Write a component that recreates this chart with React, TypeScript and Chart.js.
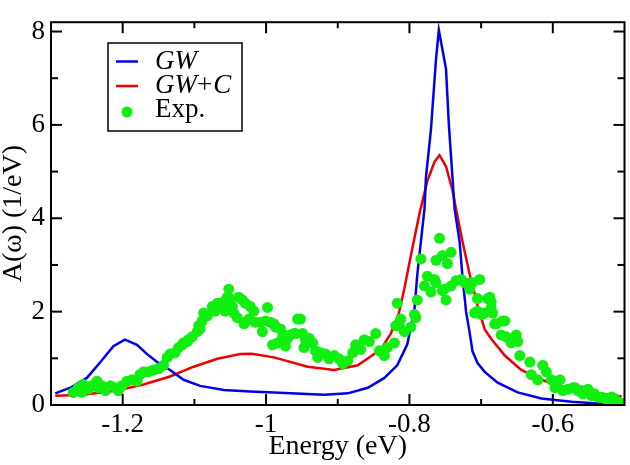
import React, { useEffect, useRef } from 'react';
import { Chart, registerables } from 'chart.js';

Chart.register(...registerables);

// ---- Data ----
const seriesLabels = ['GW', 'GW+C', 'Exp.'];
const seriesColors = ['#0000ee', '#ee0000', '#11ee11'];

const gwX = [-1.294, -1.273, -1.25, -1.231, -1.213, -1.197, -1.18, -1.166, -1.152, -1.134, -1.115, -1.092, -1.059, -1.022, -0.989, -0.95, -0.919, -0.886, -0.858, -0.835, -0.817, -0.803, -0.793, -0.789, -0.784, -0.779, -0.777, -0.770, -0.763, -0.759, -0.755, -0.749, -0.745, -0.737, -0.730, -0.726, -0.721, -0.716, -0.712, -0.705, -0.695, -0.677, -0.649, -0.616, -0.574, -0.537, -0.502];
const gwY = [0.25, 0.37, 0.58, 0.92, 1.26, 1.40, 1.29, 1.09, 0.92, 0.75, 0.54, 0.41, 0.32, 0.29, 0.27, 0.24, 0.22, 0.25, 0.37, 0.58, 0.85, 1.3, 2.05, 2.8, 3.5, 4.2, 4.87, 5.9, 7.4, 8.03, 7.7, 7.2, 6.0, 4.2, 3.5, 2.75, 2.0, 1.55, 1.15, 0.9, 0.71, 0.48, 0.27, 0.14, 0.07, 0.03, 0.02];

const gwcX = [-1.294, -1.255, -1.208, -1.171, -1.134, -1.101, -1.068, -1.036, -1.02, -0.989, -0.942, -0.905, -0.872, -0.84, -0.826, -0.815, -0.807, -0.798, -0.786, -0.775, -0.765, -0.758, -0.749, -0.740, -0.735, -0.726, -0.716, -0.705, -0.695, -0.686, -0.667, -0.644, -0.616, -0.583, -0.546, -0.504];
const gwcY = [0.20, 0.22, 0.31, 0.44, 0.61, 0.82, 0.99, 1.09, 1.10, 1.02, 0.82, 0.75, 0.85, 1.19, 1.53, 1.95, 2.5, 3.2, 4.1, 4.8, 5.21, 5.35, 5.11, 4.60, 4.2, 3.5, 2.8, 2.14, 1.62, 1.42, 1.06, 0.75, 0.54, 0.37, 0.27, 0.18];

const expX = [-1.269, -1.262, -1.257, -1.255, -1.248, -1.243, -1.236, -1.234, -1.229, -1.224, -1.217, -1.210, -1.206, -1.201, -1.194, -1.187, -1.180, -1.176, -1.171, -1.164, -1.157, -1.150, -1.143, -1.138, -1.134, -1.127, -1.122, -1.117, -1.115, -1.110, -1.108, -1.103, -1.096, -1.094, -1.092, -1.089, -1.087, -1.082, -1.075, -1.071, -1.068, -1.064, -1.059, -1.057, -1.054, -1.052, -1.050, -1.047, -1.045, -1.040, -1.038, -1.033, -1.031, -1.029, -1.026, -1.024, -1.022, -1.017, -1.015, -1.008, -1.005, -1.001, -0.998, -0.994, -0.991, -0.989, -0.987, -0.984, -0.980, -0.977, -0.975, -0.973, -0.970, -0.966, -0.961, -0.959, -0.956, -0.952, -0.949, -0.947, -0.945, -0.940, -0.935, -0.931, -0.928, -0.924, -0.917, -0.912, -0.905, -0.898, -0.893, -0.886, -0.879, -0.875, -0.868, -0.863, -0.856, -0.847, -0.842, -0.835, -0.831, -0.821, -0.819, -0.817, -0.814, -0.812, -0.807, -0.798, -0.793, -0.791, -0.789, -0.784, -0.779, -0.775, -0.770, -0.765, -0.763, -0.763, -0.758, -0.754, -0.754, -0.751, -0.749, -0.747, -0.742, -0.742, -0.735, -0.728, -0.723, -0.716, -0.714, -0.712, -0.709, -0.705, -0.705, -0.702, -0.700, -0.695, -0.691, -0.688, -0.686, -0.686, -0.684, -0.681, -0.679, -0.672, -0.670, -0.667, -0.665, -0.658, -0.651, -0.649, -0.646, -0.632, -0.630, -0.621, -0.614, -0.609, -0.602, -0.597, -0.595, -0.590, -0.586, -0.579, -0.572, -0.569, -0.565, -0.560, -0.558, -0.551, -0.546, -0.542, -0.537, -0.532, -0.528, -0.523, -0.518, -0.514, -0.509, -0.504, -0.502];
const expY = [0.27, 0.37, 0.27, 0.44, 0.34, 0.41, 0.51, 0.37, 0.41, 0.31, 0.41, 0.37, 0.31, 0.41, 0.51, 0.54, 0.51, 0.65, 0.71, 0.71, 0.75, 0.78, 0.85, 1.02, 1.09, 1.12, 1.23, 1.29, 1.33, 1.36, 1.40, 1.46, 1.57, 1.70, 1.63, 1.80, 1.97, 1.91, 2.11, 2.01, 2.18, 2.14, 2.21, 2.01, 2.31, 2.48, 2.28, 2.11, 1.97, 1.87, 2.31, 2.25, 1.74, 2.18, 1.80, 1.84, 2.11, 2.01, 1.77, 1.77, 1.57, 1.80, 2.09, 1.77, 1.29, 1.74, 1.67, 1.33, 1.63, 1.46, 1.50, 1.26, 1.43, 1.50, 1.53, 1.53, 1.84, 1.84, 1.53, 1.23, 1.40, 1.43, 1.33, 1.16, 1.02, 1.12, 1.09, 0.99, 1.06, 0.99, 0.88, 0.95, 1.12, 1.29, 1.19, 1.40, 1.36, 1.53, 1.16, 1.06, 1.23, 1.33, 1.70, 2.18, 1.70, 1.84, 1.57, 1.67, 1.94, 1.87, 2.25, 3.13, 2.55, 2.76, 2.42, 2.69, 3.10, 2.62, 3.57, 3.20, 2.45, 2.48, 2.25, 3.03, 3.27, 2.55, 2.66, 2.69, 2.62, 2.48, 2.62, 2.62, 1.97, 2.28, 2.01, 2.69, 1.94, 1.97, 2.28, 2.31, 2.21, 2.08, 1.97, 1.74, 1.74, 1.50, 1.80, 1.80, 1.46, 1.33, 1.50, 1.36, 1.06, 0.92, 0.65, 0.54, 0.85, 0.71, 0.54, 0.37, 0.44, 0.54, 0.31, 0.34, 0.37, 0.37, 0.31, 0.31, 0.24, 0.34, 0.20, 0.24, 0.17, 0.17, 0.14, 0.10, 0.17, 0.14, 0.03, 0.03, 0.02];

const xRange = [-1.3, -0.5];
const yRange = [0, 8.2];
const xMajorTicks = [-1.2, -1, -0.8, -0.6];
const xMinorTicks = [-1.1, -0.9, -0.7];
const yMajorTicks = [0, 2, 4, 6, 8];
const yMinorTicks = [1, 3, 5, 7];

const FONT = '"Liberation Serif", "Times New Roman", serif';

const pairs = (xs: number[], ys: number[]) => xs.map((x, i) => ({ x, y: ys[i] }));

const framePlugin = {
  id: 'frameTicks',
  afterDraw(chart: any) {
    const ctx = chart.ctx;
    const { left, right, top, bottom } = chart.chartArea;
    const xs = chart.scales.x;
    const ys = chart.scales.y;
    ctx.save();
    ctx.strokeStyle = '#000';
    ctx.lineWidth = 2;
    ctx.strokeRect(left, top, right - left, bottom - top);
    const seg = (x1: number, y1: number, x2: number, y2: number) => {
      ctx.beginPath();
      ctx.moveTo(x1, y1);
      ctx.lineTo(x2, y2);
      ctx.stroke();
    };
    xMajorTicks.forEach((v) => {
      const p = xs.getPixelForValue(v);
      seg(p, bottom, p, bottom - 11);
      seg(p, top, p, top + 11);
    });
    xMinorTicks.forEach((v) => {
      const p = xs.getPixelForValue(v);
      seg(p, bottom, p, bottom - 6);
      seg(p, top, p, top + 6);
    });
    yMajorTicks.forEach((v) => {
      const p = ys.getPixelForValue(v);
      seg(left, p, left + 11, p);
      seg(right, p, right - 11, p);
    });
    yMinorTicks.forEach((v) => {
      const p = ys.getPixelForValue(v);
      seg(left, p, left + 7, p);
      seg(right, p, right - 7, p);
    });

    // Legend
    const bx = 108, by = 43, bw = 134, bh = 88;
    ctx.fillStyle = '#fff';
    ctx.fillRect(bx, by, bw, bh);
    ctx.lineWidth = 1.5;
    ctx.strokeRect(bx, by, bw, bh);
    const rows = [61.5, 86, 112];
    ctx.lineWidth = 2.5;
    ctx.strokeStyle = seriesColors[0];
    seg(116, rows[0], 138, rows[0]);
    ctx.strokeStyle = seriesColors[1];
    seg(116, rows[1], 138, rows[1]);
    ctx.fillStyle = seriesColors[2];
    ctx.beginPath();
    ctx.arc(127, rows[2], 5.5, 0, Math.PI * 2);
    ctx.fill();

    ctx.fillStyle = '#000';
    ctx.textBaseline = 'middle';
    ctx.textAlign = 'left';
    const italic = `italic 27px ${FONT}`;
    const upright = `27px ${FONT}`;
    const drawParts = (parts: [string, boolean][], x: number, y: number) => {
      let cx = x;
      parts.forEach(([t, it]) => {
        ctx.font = it ? italic : upright;
        ctx.fillText(t, cx, y);
        cx += ctx.measureText(t).width + (t === '+' ? 1 : 0);
      });
    };
    drawParts([[seriesLabels[0], true]], 155, rows[0]);
    const l2 = seriesLabels[1].split('+');
    drawParts([[l2[0], true], ['+', false], [l2[1], true]], 155, rows[1]);
    drawParts([[seriesLabels[2], false]], 155, rows[2] - 2);
    ctx.restore();
  },
};

export default function App() {
  const ref = useRef<HTMLCanvasElement | null>(null);
  useEffect(() => {
    if (!ref.current) return;
    const chart = new Chart(ref.current, {
      type: 'scatter',
      data: {
        datasets: [
          {
            label: seriesLabels[0],
            data: pairs(gwX, gwY),
            showLine: true,
            borderColor: seriesColors[0],
            borderWidth: 2.5,
            pointRadius: 0,
            tension: 0,
            order: 1,
          },
          {
            label: seriesLabels[1],
            data: pairs(gwcX, gwcY),
            showLine: true,
            borderColor: seriesColors[1],
            borderWidth: 2.5,
            pointRadius: 0,
            tension: 0,
            order: 2,
          },
          {
            label: seriesLabels[2],
            data: pairs(expX, expY),
            showLine: false,
            backgroundColor: seriesColors[2],
            borderWidth: 0,
            pointRadius: 5.5,
            order: 0,
          },
        ],
      },
      options: {
        responsive: false,
        animation: false,
        layout: { padding: { top: 4, right: 5, left: 0, bottom: 0 } },
        plugins: { legend: { display: false }, tooltip: { enabled: false } },
        scales: {
          x: {
            type: 'linear',
            min: xRange[0],
            max: xRange[1],
            afterBuildTicks: (s: any) => {
              s.ticks = xMajorTicks.map((v) => ({ value: v }));
            },
            afterFit: (s: any) => {
              s.height = 60;
            },
            grid: { display: false, drawTicks: false },
            border: { display: false },
            ticks: {
              padding: 4,
              color: '#000',
              font: { family: FONT, size: 27, lineHeight: 1.2 },
              callback: (v: any) => String(v),
            },
            title: {
              display: true,
              text: 'Energy (eV)',
              color: '#000',
              font: { family: FONT, size: 28, lineHeight: 1 },
              padding: { top: 0, bottom: 4 },
            },
          },
          y: {
            type: 'linear',
            min: yRange[0],
            max: yRange[1],
            afterBuildTicks: (s: any) => {
              s.ticks = yMajorTicks.map((v) => ({ value: v }));
            },
            afterFit: (s: any) => {
              s.width = 51;
            },
            grid: { display: false, drawTicks: false },
            border: { display: false },
            ticks: {
              padding: 6,
              color: '#000',
              font: { family: FONT, size: 27, lineHeight: 1.2 },
              callback: (v: any) => String(v),
            },
            title: {
              display: true,
              text: 'A(ω) (1/eV)',
              color: '#000',
              font: { family: FONT, size: 28, lineHeight: 1 },
              padding: { top: 0, bottom: 0 },
            },
          },
        },
      },
      plugins: [framePlugin],
    });
    return () => chart.destroy();
  }, []);
  return (
    <div style={{ position: 'fixed', left: 0, top: 0, width: 630, height: 465, background: '#fff' }}>
      <canvas ref={ref} width={630} height={465} />
    </div>
  );
}
